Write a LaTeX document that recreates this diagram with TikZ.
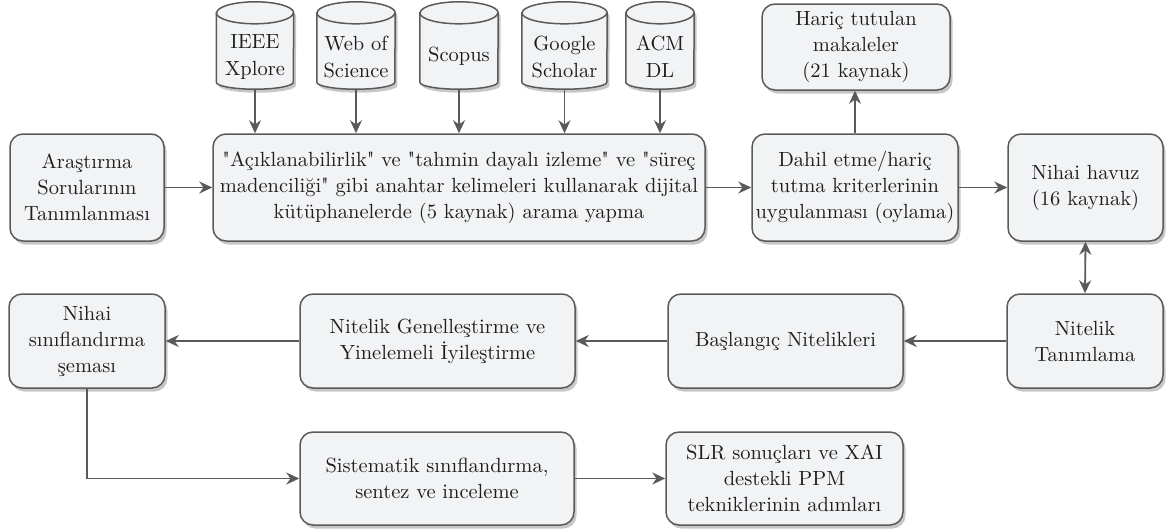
\documentclass[tikz,border=0pt]{standalone}
\usepackage{fontspec}
\setmainfont{lmroman10}[Extension=.otf, UprightFont=*-regular, BoldFont=*-bold, ItalicFont=*-italic, Ligatures=TeXOff]
\usetikzlibrary{arrows.meta,shadows,backgrounds}
\definecolor{boxfill}{HTML}{F2F3F5}
\definecolor{boxline}{HTML}{5A5A5A}
\definecolor{arrowc}{HTML}{5A5A5A}
\definecolor{txt}{HTML}{1E1E1E}
\tikzset{
  shad/.style={drop shadow={shadow xshift=2.5pt, shadow yshift=-3.5pt, opacity=0.22, fill=black}},
  box/.style={draw=boxline, line width=1.5pt, fill=boxfill, rounded corners=13pt, align=center,
    text=txt, font=\rmfamily\fontsize{20.5}{26}\selectfont, inner sep=1pt, shad},
  dbtext/.style={align=center, text=txt, font=\rmfamily\fontsize{20.5}{27}\selectfont, inner sep=0pt},
  dbshape/.style={draw=boxline, line width=1.5pt, fill=boxfill, shad},
  dbline/.style={draw=boxline, line width=1.5pt},
  conn/.style={draw=arrowc, line width=1.8pt, -{Stealth[length=13pt,width=12pt]}},
  dconn/.style={draw=arrowc, line width=1.8pt, {Stealth[length=13pt,width=12pt]}-{Stealth[length=13pt,width=12pt]}},
}
% #1 node name, #2 half width
\newcommand{\dbcyl}[2]{%
  \path[dbshape] ([yshift=11pt]#1.north west) -- ([yshift=7pt]#1.south west)
    arc[start angle=180,end angle=360,x radius=#2,y radius=7pt]
    -- ([yshift=11pt]#1.north east)
    arc[start angle=0,end angle=180,x radius=#2,y radius=11pt] -- cycle;
  \draw[dbline] ([yshift=11pt]#1.north west)
    arc[start angle=180,end angle=360,x radius=#2,y radius=11pt];
}
\begin{document}
\begin{tikzpicture}[x=1pt,y=-1pt]
\useasboundingbox (0,0) rectangle (1166,531);

% databases (text nodes = cylinder bodies)
\node[dbtext, minimum width=77pt, minimum height=65pt] (ieee) at (255,56.5) {IEEE\\Xplore};
\node[dbtext, minimum width=78pt, minimum height=65pt] (wos) at (356,56.5) {Web of\\Science};
\node[dbtext, minimum width=78pt, minimum height=65pt] (scopus) at (459,56.5) {Scopus};
\node[dbtext, minimum width=85pt, minimum height=65pt] (gs) at (564.5,56.5) {Google\\Scholar};
\node[dbtext, minimum width=68pt, minimum height=65pt] (acm) at (660,56.5) {ACM\\DL};
\begin{scope}[on background layer]
  \dbcyl{ieee}{38.5pt}
  \dbcyl{wos}{39pt}
  \dbcyl{scopus}{39pt}
  \dbcyl{gs}{42.5pt}
  \dbcyl{acm}{34pt}
\end{scope}

% row 1
\node[box, minimum width=154pt, minimum height=107pt] (ara) at (87,187.5) {Araştırma\\Sorularının\\Tanımlanması};
\node[box, minimum width=492pt, minimum height=107pt] (search) at (459,187.5) {"Açıklanabilirlik" ve "tahmin dayalı izleme" ve "süreç\\madenciliği" gibi anahtar kelimeleri kullanarak dijital\\kütüphanelerde (5 kaynak) arama yapma};
\node[box, minimum width=206pt, minimum height=107pt] (dahil) at (855,187.5) {Dahil etme/hariç\\tutma kriterlerinin\\uygulanması (oylama)};
\node[box, minimum width=155pt, minimum height=107pt] (havuz) at (1085.5,187.5) {Nihai havuz\\(16 kaynak)};
\node[box, minimum width=188pt, minimum height=86pt] (haric) at (856,47) {Hariç tutulan\\makaleler\\(21 kaynak)};

% row 2
\node[box, minimum width=156pt, minimum height=94pt] (nihai) at (87,341) {Nihai\\sınıflandırma\\şeması};
\node[box, minimum width=275pt, minimum height=94pt] (ng) at (437.5,341) {Nitelik Genelleştirme ve\\Yinelemeli İyileştirme};
\node[box, minimum width=235pt, minimum height=94pt] (bas) at (785.5,341) {Başlangıç Nitelikleri};
\node[box, minimum width=156pt, minimum height=94pt] (nt) at (1085,341) {Nitelik\\Tanımlama};

% row 3
\node[box, minimum width=274pt, minimum height=93pt] (sis) at (437,478.5) {Sistematik sınıflandırma,\\sentez ve inceleme};
\node[box, minimum width=237pt, minimum height=93pt] (slr) at (784.5,478.5) {SLR sonuçları ve XAI\\destekli PPM\\tekniklerinin adımları};

% connectors
\draw[conn] (ieee.south) -- (ieee.south |- search.north);
\draw[conn] (wos.south) -- (wos.south |- search.north);
\draw[conn] (scopus.south) -- (scopus.south |- search.north);
\draw[conn] (gs.south) -- (gs.south |- search.north);
\draw[conn] (acm.south) -- (acm.south |- search.north);
\draw[conn] (ara.east) -- (search.west);
\draw[conn] (search.east) -- (dahil.west);
\draw[conn] (dahil.east) -- (havuz.west);
\draw[conn] (dahil.north) -- (dahil.north |- haric.south);
\draw[dconn] (havuz.south) -- (nt.north);
\draw[conn] (nt.west) -- (bas.east);
\draw[conn] (bas.west) -- (ng.east);
\draw[conn] (ng.west) -- (nihai.east);
\draw[conn] (nihai.south) |- (sis.west);
\draw[conn] (sis.east) -- (slr.west);
\end{tikzpicture}
\end{document}
